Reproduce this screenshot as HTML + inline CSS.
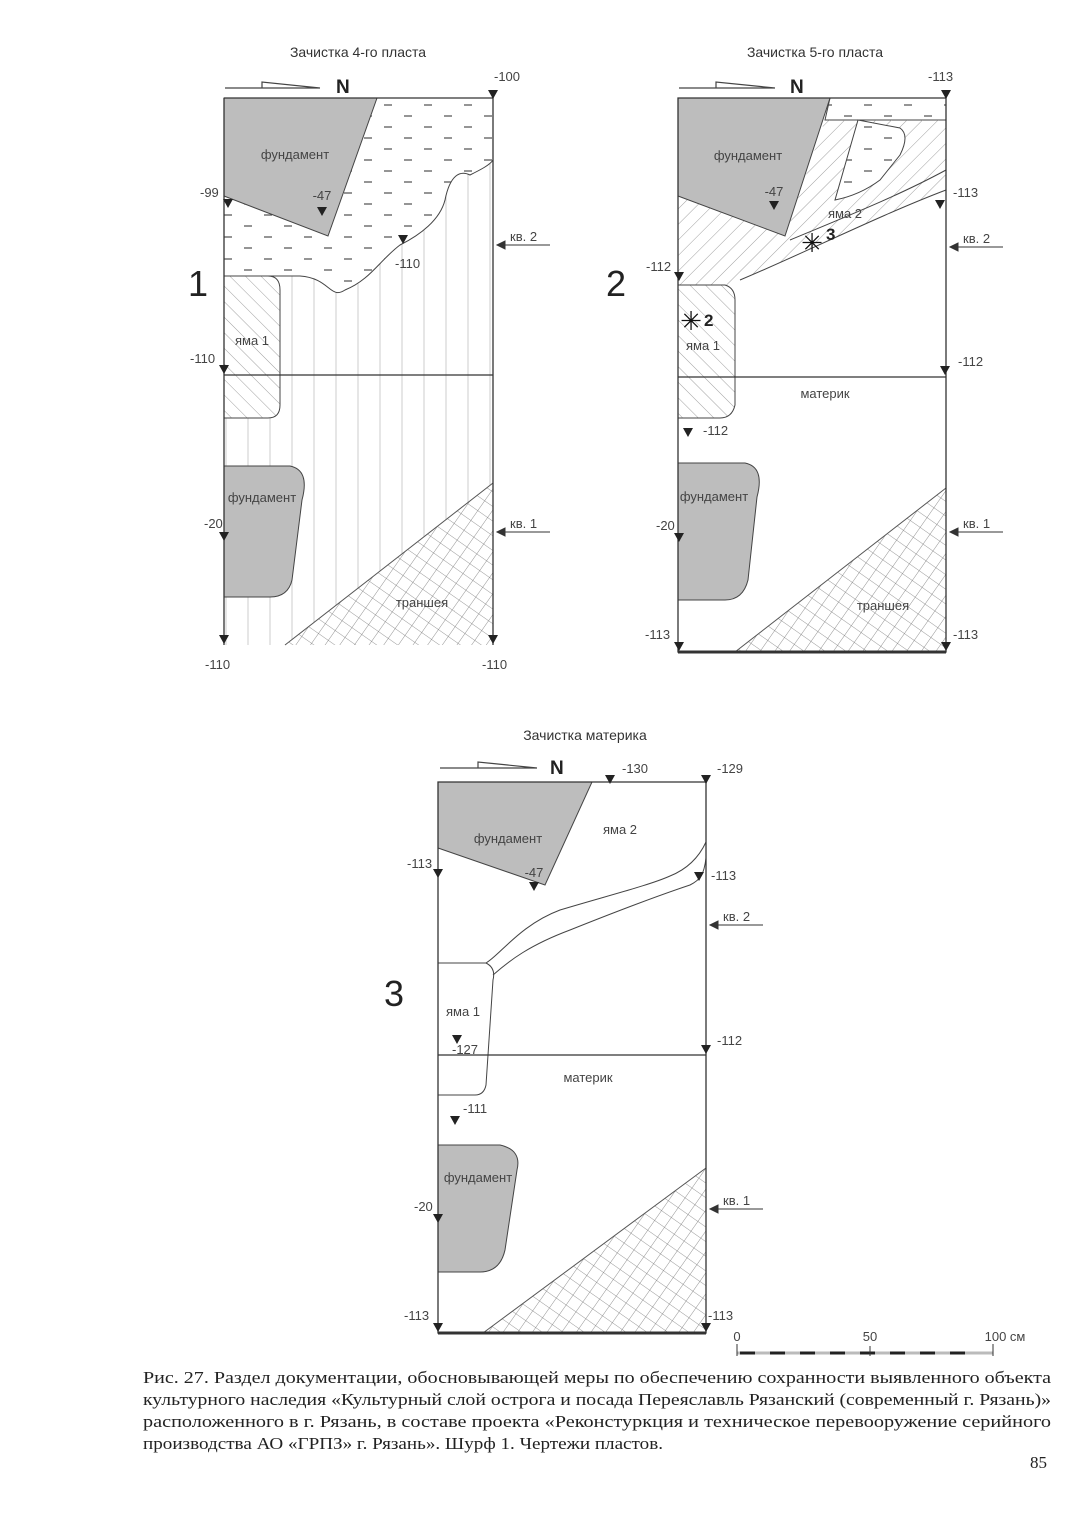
<!DOCTYPE html>
<html><head><meta charset="utf-8"><style>
html,body{margin:0;padding:0;background:#fff}
svg{display:block}
.t{font-family:"Liberation Sans",sans-serif;font-size:14px;fill:#333}
.s{font-family:"Liberation Sans",sans-serif;font-size:13px;fill:#444}
.cap{font-family:"Liberation Serif",serif;font-size:17px;fill:#222}
</style></head><body>
<svg width="1080" height="1527" viewBox="0 0 1080 1527" xmlns="http://www.w3.org/2000/svg">
<defs>
<pattern id="cross" width="12" height="12" patternUnits="userSpaceOnUse" patternTransform="rotate(35)">
<path d="M0 0H12M0 0V12" stroke="#777" stroke-width="0.8" fill="none"/></pattern>
<pattern id="diag" width="11" height="11" patternUnits="userSpaceOnUse" patternTransform="rotate(45)">
<path d="M0 0V11" stroke="#888" stroke-width="0.8"/></pattern>
<pattern id="diag2" width="11" height="11" patternUnits="userSpaceOnUse" patternTransform="rotate(-45)">
<path d="M0 0V11" stroke="#888" stroke-width="0.8"/></pattern>
<pattern id="dash" width="40" height="22" patternUnits="userSpaceOnUse">
<path d="M4 6H12M24 17H32" stroke="#555" stroke-width="1.2"/></pattern>
<pattern id="vl" width="22" height="10" patternUnits="userSpaceOnUse">
<path d="M6 0V10" stroke="#ccc" stroke-width="1"/></pattern>
<path id="tri" d="M-5 -5H5L0 4Z" fill="#222"/>
</defs>

<!-- ========== Drawing 1 ========== -->
<text class="t" x="358" y="57" text-anchor="middle">Зачистка 4-го пласта</text>
<path d="M225 88H320M262 88V82L320 88" stroke="#444" fill="none" stroke-width="1.2"/>
<text x="336" y="93" font-family="Liberation Sans" font-weight="bold" font-size="19" fill="#222">N</text>
<rect x="280" y="160" width="213" height="485" fill="url(#vl)"/>
<rect x="224" y="418" width="56" height="227" fill="url(#vl)"/>
<path d="M224 196L224 276 L300 276 C330 278 330 300 345 290 C370 280 380 260 400 245 C420 235 440 220 445 200 C450 175 460 170 470 175 C480 170 490 165 493 160 V98 H377 Z" fill="#fff" stroke="none"/>
<path d="M224 196L224 276 L300 276 C330 278 330 300 345 290 C370 280 380 260 400 245 C420 235 440 220 445 200 C450 175 460 170 470 175 C480 170 490 165 493 160 V98 H377 Z" fill="url(#dash)" stroke="none"/>
<path d="M224 276 L300 276 C330 278 330 300 345 290 C370 280 380 260 400 245 C420 235 440 220 445 200 C450 175 460 170 470 175 C480 170 490 165 493 160" stroke="#444" fill="none" stroke-width="1"/>
<polygon points="224,98 377,98 328,236 224,196" fill="#bdbdbd" stroke="#444"/>
<text class="s" x="295" y="159" text-anchor="middle">фундамент</text>
<text class="s" x="322" y="200" text-anchor="middle">-47</text>
<use href="#tri" x="322" y="212"/>
<path d="M224 276H268Q280 276 280 290V405Q280 418 268 418H224Z" fill="#fff" stroke="none"/>
<path d="M224 276H268Q280 276 280 290V405Q280 418 268 418H224Z" fill="url(#diag2)" stroke="#444"/>
<text class="s" x="252" y="345" text-anchor="middle">яма 1</text>
<path d="M224 466H290Q310 470 302 500L292 580Q288 597 270 597H224Z" fill="#bdbdbd" stroke="#444"/>
<text class="s" x="262" y="502" text-anchor="middle" font-size="12">фундамент</text>
<polygon points="285,645 493,483 493,645" fill="#fff"/>
<polygon points="285,645 493,483 493,645" fill="url(#cross)"/>
<path d="M285 645L493 483" stroke="#555"/>
<text class="s" x="422" y="607" text-anchor="middle">траншея</text>
<path d="M224 98H493V645M224 98V645M224 375H493" stroke="#333" stroke-width="1.3" fill="none"/>
<text class="s" x="494" y="81">-100</text><use href="#tri" x="493" y="95"/>
<text class="s" x="200" y="197">-99</text><use href="#tri" x="228" y="204"/>
<use href="#tri" x="403" y="240"/><text class="s" x="395" y="268">-110</text>
<text class="s" x="190" y="363">-110</text><use href="#tri" x="224" y="370"/>
<text class="s" x="204" y="528">-20</text><use href="#tri" x="224" y="537"/>
<use href="#tri" x="224" y="640"/><use href="#tri" x="493" y="640"/>
<text class="s" x="205" y="669">-110</text><text class="s" x="482" y="669">-110</text>
<path d="M497 245H550M497 245l8-4v8z" stroke="#333" fill="#333"/><text class="s" x="510" y="241">кв. 2</text>
<path d="M497 532H550M497 532l8-4v8z" stroke="#333" fill="#333"/><text class="s" x="510" y="528">кв. 1</text>
<text x="188" y="296" font-family="Liberation Sans" font-size="36" fill="#222">1</text>

<!-- ========== Drawing 2 ========== -->
<text class="t" x="815" y="57" text-anchor="middle">Зачистка 5-го пласта</text>
<path d="M679 88H775M716 88V82L775 88" stroke="#444" fill="none" stroke-width="1.2"/>
<text x="790" y="93" font-family="Liberation Sans" font-weight="bold" font-size="19" fill="#222">N</text>
<polygon points="830,98 946,98 946,120 825,120" fill="url(#dash)" stroke="#444"/>
<path d="M678 196V285H730L740 280C800 255 880 215 946 190V120H825 L785 236 Z" fill="url(#diag)" stroke="none"/>
<path d="M740 280C800 255 880 215 946 190M790 240C850 215 900 195 946 170" stroke="#444" fill="none"/>
<path d="M858 120L900 128Q910 135 900 155L880 180Q860 195 835 200Z" fill="#fff" stroke="#444"/>
<path d="M858 120L900 128Q910 135 900 155L880 180Q860 195 835 200Z" fill="url(#dash)"/>
<text class="s" x="845" y="218" text-anchor="middle" font-size="12">яма 2</text>
<polygon points="678,98 830,98 785,236 678,196" fill="#bdbdbd" stroke="#444"/>
<text class="s" x="748" y="160" text-anchor="middle">фундамент</text>
<text class="s" x="774" y="196" text-anchor="middle">-47</text><use href="#tri" x="774" y="206"/>
<path d="M678 285H725Q735 288 735 300V405Q732 418 720 418H678Z" fill="url(#diag2)" stroke="#444"/>
<text class="s" x="703" y="350" text-anchor="middle" font-size="12">яма 1</text>
<text x="691" y="330" font-size="26" text-anchor="middle" fill="#111" font-family="DejaVu Sans" font-weight="bold">✳</text>
<text x="704" y="326" font-family="Liberation Sans" font-weight="bold" font-size="17" fill="#222">2</text>
<text x="812" y="252" font-size="26" text-anchor="middle" fill="#111" font-family="DejaVu Sans" font-weight="bold">✳</text>
<text x="826" y="240" font-family="Liberation Sans" font-weight="bold" font-size="17" fill="#222">3</text>
<path d="M678 463H745Q765 467 757 497L748 580Q743 600 725 600H678Z" fill="#bdbdbd" stroke="#444"/>
<text class="s" x="714" y="501" text-anchor="middle" font-size="12">фундамент</text>
<polygon points="735,652 946,488 946,652" fill="url(#cross)"/>
<path d="M735 652L946 488" stroke="#555"/>
<text class="s" x="883" y="610" text-anchor="middle">траншея</text>
<text class="s" x="825" y="398" text-anchor="middle">материк</text>
<path d="M678 98H946V652H678ZM678 377H946" stroke="#333" stroke-width="1.3" fill="none"/>
<path d="M678 652H946" stroke="#333" stroke-width="3"/>
<text class="s" x="928" y="81">-113</text><use href="#tri" x="946" y="95"/>
<use href="#tri" x="940" y="205"/><text class="s" x="953" y="197">-113</text>
<text class="s" x="646" y="271">-112</text><use href="#tri" x="679" y="277"/>
<use href="#tri" x="945" y="371"/><text class="s" x="958" y="366">-112</text>
<use href="#tri" x="688" y="433"/><text class="s" x="703" y="435">-112</text>
<text class="s" x="656" y="530">-20</text><use href="#tri" x="679" y="538"/>
<text class="s" x="645" y="639">-113</text><use href="#tri" x="679" y="647"/>
<use href="#tri" x="946" y="647"/><text class="s" x="953" y="639">-113</text>
<path d="M950 247H1003M950 247l8-4v8z" stroke="#333" fill="#333"/><text class="s" x="963" y="243">кв. 2</text>
<path d="M950 532H1003M950 532l8-4v8z" stroke="#333" fill="#333"/><text class="s" x="963" y="528">кв. 1</text>
<text x="606" y="296" font-family="Liberation Sans" font-size="36" fill="#222">2</text>

<!-- ========== Drawing 3 ========== -->
<text class="t" x="585" y="740" text-anchor="middle">Зачистка материка</text>
<path d="M440 768H537M478 768V762L537 768" stroke="#444" fill="none" stroke-width="1.2"/>
<text x="550" y="774" font-family="Liberation Sans" font-weight="bold" font-size="19" fill="#222">N</text>
<polygon points="438,782 592,782 545,885 438,848" fill="#bdbdbd" stroke="#444"/>
<text class="s" x="508" y="843" text-anchor="middle">фундамент</text>
<text class="s" x="534" y="877" text-anchor="middle">-47</text><use href="#tri" x="534" y="887"/>
<text class="s" x="620" y="834" text-anchor="middle">яма 2</text>
<path d="M486 963C500 955 520 925 560 910C610 895 650 885 670 876C690 868 700 855 706 842" stroke="#444" fill="none"/>
<path d="M493 975C510 960 530 945 570 930C620 910 660 895 690 885C700 880 704 875 706 858" stroke="#444" fill="none"/>
<path d="M438 963H486Q496 968 493 980L486 1085Q484 1095 475 1095H438" stroke="#444" fill="none"/>
<text class="s" x="463" y="1016" text-anchor="middle">яма 1</text>
<use href="#tri" x="457" y="1040"/><text class="s" x="452" y="1054">-127</text>
<use href="#tri" x="455" y="1121"/><text class="s" x="463" y="1113">-111</text>
<path d="M438 1145H500Q522 1150 517 1170L505 1250Q500 1272 480 1272H438Z" fill="#bdbdbd" stroke="#444"/>
<text class="s" x="478" y="1182" text-anchor="middle" font-size="12">фундамент</text>
<polygon points="483,1333 706,1168 706,1333" fill="url(#cross)"/>
<path d="M483 1333L706 1168" stroke="#555"/>
<text class="s" x="588" y="1082" text-anchor="middle">материк</text>
<path d="M438 782H706V1333H438ZM438 1055H706" stroke="#333" stroke-width="1.3" fill="none"/>
<path d="M438 1333H706" stroke="#333" stroke-width="3"/>
<use href="#tri" x="610" y="780"/><text class="s" x="622" y="773">-130</text>
<use href="#tri" x="706" y="780"/><text class="s" x="717" y="773">-129</text>
<text class="s" x="407" y="868">-113</text><use href="#tri" x="438" y="874"/>
<use href="#tri" x="699" y="877"/><text class="s" x="711" y="880">-113</text>
<use href="#tri" x="706" y="1050"/><text class="s" x="717" y="1045">-112</text>
<text class="s" x="414" y="1211">-20</text><use href="#tri" x="438" y="1219"/>
<text class="s" x="404" y="1320">-113</text><use href="#tri" x="438" y="1328"/>
<use href="#tri" x="706" y="1328"/><text class="s" x="708" y="1320">-113</text>
<path d="M710 925H763M710 925l8-4v8z" stroke="#333" fill="#333"/><text class="s" x="723" y="921">кв. 2</text>
<path d="M710 1209H763M710 1209l8-4v8z" stroke="#333" fill="#333"/><text class="s" x="723" y="1205">кв. 1</text>
<text x="384" y="1006" font-family="Liberation Sans" font-size="36" fill="#222">3</text>

<!-- scale -->
<text class="s" x="737" y="1341" font-size="11" text-anchor="middle">0</text>
<text class="s" x="870" y="1341" font-size="11" text-anchor="middle">50</text>
<text class="s" x="1005" y="1341" font-size="11" text-anchor="middle">100 см</text>
<path d="M737 1353H993" stroke="#bbb" stroke-width="3"/>
<path d="M740 1353H755M770 1353H785M800 1353H815M830 1353H845M860 1353H875M890 1353H905M920 1353H935M950 1353H965" stroke="#222" stroke-width="3"/>
<path d="M737 1344V1356M870 1346V1356M993 1344V1356" stroke="#333"/>

<!-- caption -->
<text class="cap" x="143" y="1383" textLength="908" lengthAdjust="spacingAndGlyphs">Рис. 27. Раздел документации, обосновывающей меры по обеспечению сохранности выявленного объекта</text>
<text class="cap" x="143" y="1405" textLength="908" lengthAdjust="spacingAndGlyphs">культурного наследия «Культурный слой острога и посада Переяславль Рязанский (современный г. Рязань)»</text>
<text class="cap" x="143" y="1427" textLength="908" lengthAdjust="spacingAndGlyphs">расположенного в г. Рязань, в составе проекта «Реконстуркция и техническое перевооружение серийного</text>
<text class="cap" x="143" y="1449" textLength="520" lengthAdjust="spacingAndGlyphs">производства АО «ГРПЗ» г. Рязань». Шурф 1. Чертежи пластов.</text>
<text class="cap" x="1030" y="1468" font-size="19">85</text>
</svg>
</body></html>
